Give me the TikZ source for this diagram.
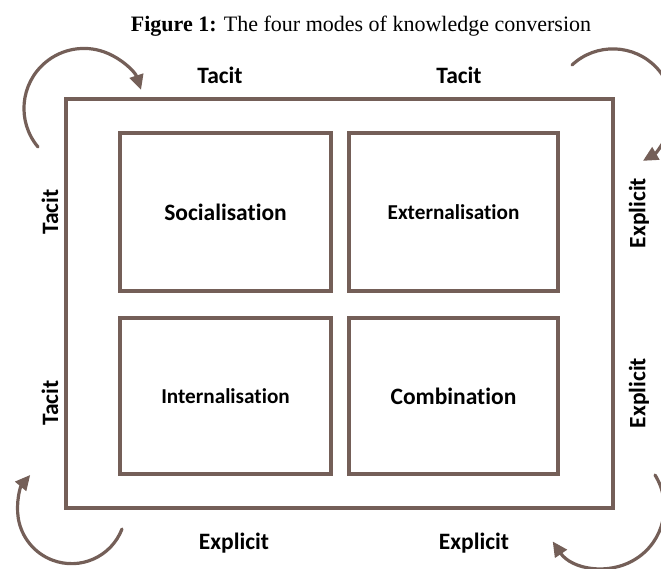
\documentclass[tikz,border=0pt]{standalone}
\usepackage{fontspec}
\setmainfont{Liberation Serif}
\newfontfamily\calib[Ligatures=NoCommon]{Carlito}
\usetikzlibrary{arrows.meta}
\definecolor{frame}{HTML}{745F58}
\tikzset{
  box/.style={draw=frame, line width=3.2pt, minimum width=#1, inner sep=0pt},
  outerbox/.style={draw=frame, line width=3.5pt, minimum width=547pt, minimum height=409pt, inner sep=0pt},
  modebig/.style={font=\calib\bfseries\fontsize{23.5}{26}\selectfont},
  modesmall/.style={font=\calib\bfseries\fontsize{21.2}{24}\selectfont},
  side/.style={font=\calib\bfseries\fontsize{23.5}{26}\selectfont, inner sep=0pt},
  turn/.style={draw=frame, line width=3.2pt, line cap=round, -{Triangle[length=15pt,width=14pt]}},
}
\begin{document}
\begin{tikzpicture}[x=1pt,y=1pt]
\useasboundingbox (0,0) rectangle (661,568);
\node[font=\fontsize{22}{26}\selectfont, inner sep=0pt] (cap) at (361,542) {\textbf{Figure 1:} The four modes of knowledge conversion};
\node[outerbox] (outer) at (339.5,264.5) {};
\node[box=211pt, minimum height=158pt, modebig] (soc) at (225.5,356) {Socialisation};
\node[box=209pt, minimum height=158pt, modesmall] (ext) at (453.5,356) {Externalisation};
\node[box=211pt, minimum height=156pt, modesmall] (int) at (225.5,172) {Internalisation};
\node[box=209pt, minimum height=156pt, modebig] (com) at (453.5,172) {Combination};
\node[side] (t1) at (220,493) {Tacit};
\node[side] (t2) at (459,493) {Tacit};
\node[side] (e1) at (234,25) {Explicit};
\node[side] (e2) at (474,25) {Explicit};
\node[side, rotate=90] (t3) at (50,356) {Tacit};
\node[side, rotate=90] (t4) at (50,165) {Tacit};
\node[side, rotate=90] (e3) at (639,355) {Explicit};
\node[side, rotate=90] (e4) at (639,175) {Explicit};
\coordinate (a1) at (38,421);
\coordinate (a2) at (572,503);
\coordinate (a3) at (122,39);
\coordinate (a4) at (655,93);
\draw[turn] (a1) arc[start angle=220, end angle=18, radius=60];
\draw[turn] (a2) arc[start angle=133, end angle=-60, radius=60];
\draw[turn] (a3) arc[start angle=-21, end angle=-220, radius=54];
\draw[turn] (a4) arc[start angle=32, end angle=-146, radius=61];
\end{tikzpicture}
\end{document}
